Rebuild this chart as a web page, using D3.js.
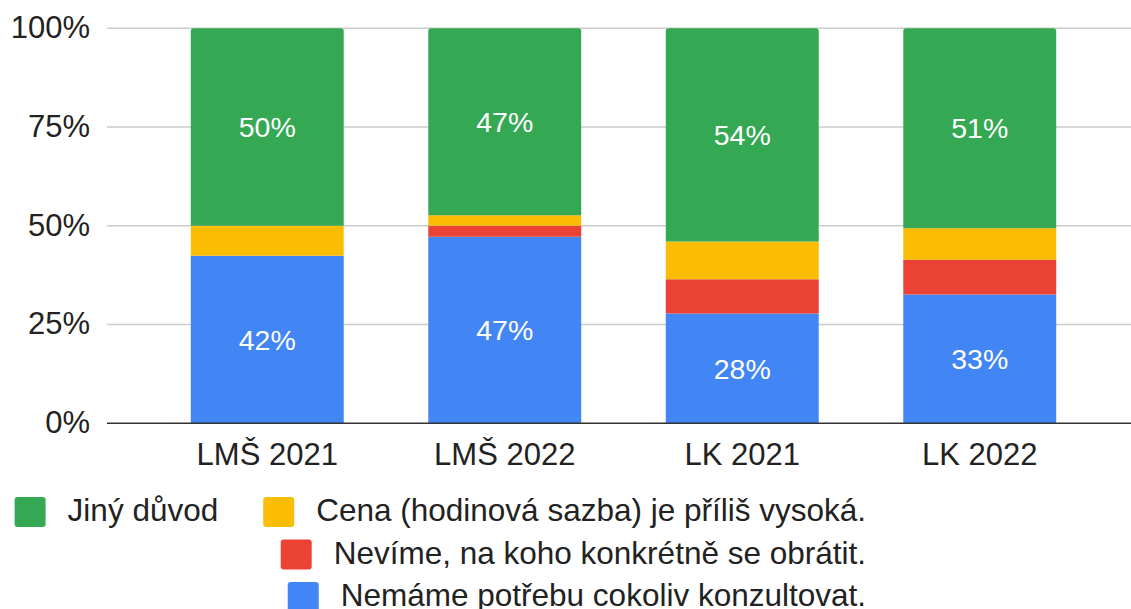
<!DOCTYPE html>
<html>
<head>
<meta charset="utf-8">
<script src="https://cdn.jsdelivr.net/npm/d3@7"></script>
<style>
  body { margin: 0; background: #fff; }
  svg { display: block; font-family: "Liberation Sans", Arial, sans-serif; }
</style>
</head>
<body>
<div id="vis"></div>
<script>
const width = 1131;
const height = 609;

// data (percent of respondents)
const categories = ['LMŠ 2021', 'LMŠ 2022', 'LK 2021', 'LK 2022'];
const seriesNames = [
    'Nemáme potřebu cokoliv konzultovat.',
    'Nevíme, na koho konkrétně se obrátit.',
    'Cena (hodinová sazba) je příliš vysoká.',
    'Jiný důvod'
];
const seriesColors = ['#4285f4', '#ea4335', '#fbbc04', '#34a853'];
const nemame = [42.4, 47.2, 27.8, 32.6];
const nevime = [0, 2.8, 8.7, 8.8];
const cena = [7.6, 2.7, 9.5, 8.0];
const jiny = [50.0, 47.3, 54.0, 50.6];
const yTicks = [0, 25, 50, 75, 100];

const seriesValues = [nemame, nevime, cena, jiny];

// build rows for d3.stack
const rows = categories.map((c, i) => {
    const r = { category: c };
    seriesNames.forEach((s, j) => { r[s] = seriesValues[j][i]; });
    return r;
});

const svg = d3.select('#vis')
              .append('svg')
              .attr('width', width)
              .attr('height', height);

const x = d3.scaleBand()
            .domain(categories)
            .range([148.5, 1098.5])
            .paddingInner(0.356)
            .paddingOuter(0.178);

const y = d3.scaleLinear()
            .domain([0, 100])
            .range([423.3, 28.3]);

// gridlines
svg.append('g')
   .selectAll('line')
   .data(yTicks.filter(d => d > 0))
   .enter()
   .append('line')
   .attr('x1', 107)
   .attr('x2', width)
   .attr('y1', d => y(d))
   .attr('y2', d => y(d))
   .attr('stroke', '#cccccc')
   .attr('stroke-width', 1.4);

// y tick labels
svg.append('g')
   .selectAll('text')
   .data(yTicks)
   .enter()
   .append('text')
   .attr('x', 90)
   .attr('y', d => y(d))
   .attr('dy', '0.32em')
   .attr('text-anchor', 'end')
   .attr('font-size', 31)
   .attr('fill', '#222')
   .text(d => d + '%');

// stacked bars
const stack = d3.stack().keys(seriesNames);
const stacked = stack(rows);

const radius = 3;
function segPath(d, isTop) {
    const x0 = x(d.data.category);
    const w = x.bandwidth();
    const yt = y(d[1]);
    const yb = y(d[0]);
    if (!isTop) {
        return `M${x0},${yb}V${yt}H${x0 + w}V${yb}Z`;
    }
    return `M${x0},${yb}V${yt + radius}Q${x0},${yt} ${x0 + radius},${yt}` +
           `H${x0 + w - radius}Q${x0 + w},${yt} ${x0 + w},${yt + radius}V${yb}Z`;
}

svg.append('g')
   .selectAll('g')
   .data(stacked)
   .enter()
   .append('g')
   .attr('fill', (d, i) => seriesColors[i])
   .selectAll('path')
   .data((d, i) => d.map(p => ({ p: p, top: i === stacked.length - 1 })))
   .enter()
   .append('path')
   .attr('d', d => segPath(d.p, d.top));

// value labels (only big segments get one)
const labelData = [];
stacked.forEach(s => {
    s.forEach(p => {
        const v = p[1] - p[0];
        if (v >= 20) labelData.push({ p: p, v: v });
    });
});

svg.append('g')
   .selectAll('text')
   .data(labelData)
   .enter()
   .append('text')
   .attr('x', d => x(d.p.data.category) + x.bandwidth() / 2)
   .attr('y', d => y((d.p[0] + d.p[1]) / 2))
   .attr('dy', '0.36em')
   .attr('text-anchor', 'middle')
   .attr('font-size', 28.5)
   .attr('fill', '#fff')
   .text(d => Math.round(d.v) + '%');

// x axis baseline
svg.append('line')
   .attr('x1', 107)
   .attr('x2', width)
   .attr('y1', y(0))
   .attr('y2', y(0))
   .attr('stroke', '#333')
   .attr('stroke-width', 1.6);

// category labels
svg.append('g')
   .selectAll('text')
   .data(categories)
   .enter()
   .append('text')
   .attr('x', d => x(d) + x.bandwidth() / 2)
   .attr('y', 465)
   .attr('text-anchor', 'middle')
   .attr('font-size', 31)
   .attr('fill', '#222')
   .text(d => d);

// legend: rows right aligned, as in the picture
const legendRows = [[3, 2], [1], [0]];
const legendY = [512, 554.5, 597];
const legendRight = 866;
const legend = svg.append('g');

legendRows.forEach((row, ri) => {
    const g = legend.append('g');
    let cx = 0;
    row.forEach((si, k) => {
        if (k > 0) cx += 45;
        g.append('rect')
         .attr('x', cx)
         .attr('y', -15)
         .attr('width', 31)
         .attr('height', 30)
         .attr('rx', 3)
         .attr('fill', seriesColors[si]);
        const t = g.append('text')
                   .attr('x', cx + 53)
                   .attr('y', 9)
                   .attr('font-size', 31.5)
                   .attr('fill', '#222')
                   .text(seriesNames[si]);
        cx += 53 + t.node().getComputedTextLength();
    });
    g.attr('transform', `translate(${legendRight - cx},${legendY[ri]})`);
});
</script>
</body>
</html>
